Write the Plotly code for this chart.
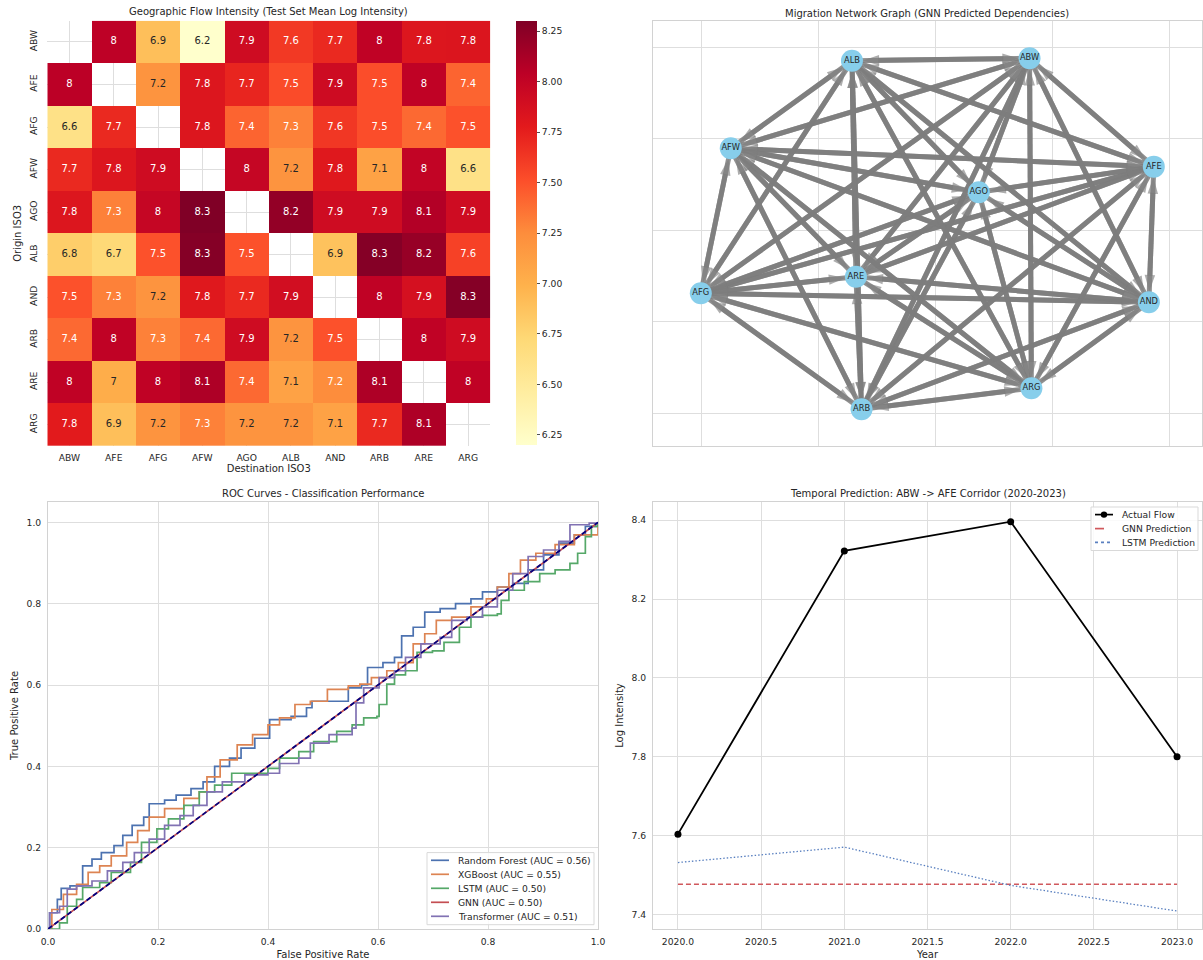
import plotly.graph_objects as go

# ---------------- data ----------------
codes = ["ABW", "AFE", "AFG", "AFW", "AGO", "ALB", "AND", "ARB", "ARE", "ARG"]
# rows = origin, columns = destination (mean log intensity, diagonal empty)
flow = [
    [None, 8.03, 6.90, 6.20, 7.92, 7.62, 7.70, 8.02, 7.82, 7.83],
    [8.04, None, 7.20, 7.82, 7.72, 7.53, 7.93, 7.52, 8.02, 7.42],
    [6.62, 7.70, None, 7.82, 7.42, 7.30, 7.63, 7.52, 7.40, 7.50],
    [7.70, 7.82, 7.92, None, 7.98, 7.20, 7.80, 7.10, 8.00, 6.62],
    [7.82, 7.30, 7.98, 8.30, None, 8.22, 7.92, 7.92, 8.08, 7.92],
    [6.80, 6.72, 7.50, 8.28, 7.50, None, 6.88, 8.28, 8.20, 7.58],
    [7.50, 7.30, 7.20, 7.80, 7.70, 7.90, None, 8.02, 7.88, 8.28],
    [7.40, 8.02, 7.30, 7.40, 7.92, 7.20, 7.50, None, 8.02, 7.92],
    [8.02, 7.02, 8.02, 8.10, 7.40, 7.10, 7.247, 8.10, None, 8.02],
    [7.78, 6.90, 7.20, 7.30, 7.20, 7.20, 7.10, 7.70, 8.10, None],
]
flow_min, flow_max = 6.20, 8.30

# network layout (node positions) and edges (GNN predicted dependencies)
node_x = [0.404, 0.935, -1.001, -0.873, 0.187, -0.355, 0.914, -0.314, -0.338, 0.412]
node_y = [0.940, 0.348, -0.344, 0.448, 0.208, 0.927, -0.393, -0.978, -0.254, -0.863]
edges = [(s, t) for s in codes for t in codes if s != t]

# ROC curves (fpr, tpr)
roc_models = ["Random Forest", "XGBoost", "LSTM", "GNN", "Transformer"]
roc_auc = [0.56, 0.55, 0.50, 0.50, 0.51]
roc_rf = [(0, 0), (0.003, 0.04), (0.017, 0.073), (0.024, 0.10), (0.04, 0.106), (0.063, 0.155),
          (0.08, 0.172), (0.097, 0.188), (0.12, 0.205), (0.136, 0.23), (0.153, 0.255), (0.174, 0.275),
          (0.184, 0.308), (0.212, 0.317), (0.233, 0.329), (0.26, 0.345), (0.282, 0.362), (0.303, 0.40),
          (0.33, 0.42), (0.351, 0.445), (0.376, 0.469), (0.403, 0.515), (0.442, 0.523), (0.47, 0.544),
          (0.48, 0.56), (0.525, 0.56), (0.546, 0.593), (0.57, 0.60), (0.581, 0.643), (0.609, 0.655),
          (0.63, 0.668), (0.643, 0.721), (0.664, 0.742), (0.685, 0.779), (0.713, 0.788), (0.741, 0.80),
          (0.769, 0.812), (0.79, 0.829), (0.817, 0.841), (0.845, 0.85), (0.873, 0.883), (0.901, 0.92),
          (0.929, 0.949), (0.957, 0.969), (0.977, 0.99), (1.0, 1.0)]
roc_xgb = [(0, 0), (0.007, 0.048), (0.028, 0.085), (0.052, 0.11), (0.073, 0.139), (0.094, 0.155),
           (0.115, 0.18), (0.143, 0.213), (0.163, 0.242), (0.184, 0.275), (0.212, 0.296), (0.247, 0.321),
           (0.275, 0.337), (0.289, 0.374), (0.313, 0.416), (0.344, 0.453), (0.372, 0.478), (0.40, 0.502),
           (0.421, 0.519), (0.449, 0.552), (0.477, 0.56), (0.508, 0.589), (0.546, 0.598), (0.567, 0.602),
           (0.588, 0.618), (0.616, 0.635), (0.637, 0.655), (0.664, 0.701), (0.685, 0.726), (0.706, 0.759),
           (0.734, 0.767), (0.769, 0.792), (0.797, 0.812), (0.817, 0.841), (0.838, 0.874), (0.859, 0.907),
           (0.887, 0.924), (0.922, 0.945), (0.957, 0.969), (1.0, 1.0)]
roc_lstm = [(0, 0), (0.021, 0.015), (0.035, 0.056), (0.052, 0.073), (0.063, 0.102), (0.094, 0.114),
            (0.115, 0.139), (0.15, 0.164), (0.17, 0.213), (0.198, 0.246), (0.219, 0.271), (0.247, 0.304),
            (0.275, 0.337), (0.303, 0.354), (0.334, 0.383), (0.40, 0.395), (0.421, 0.42), (0.456, 0.436),
            (0.483, 0.461), (0.525, 0.486), (0.553, 0.502), (0.574, 0.519), (0.598, 0.523), (0.602, 0.552),
            (0.616, 0.602), (0.63, 0.625), (0.65, 0.635), (0.671, 0.68), (0.699, 0.684), (0.72, 0.705),
            (0.748, 0.742), (0.769, 0.767), (0.79, 0.771), (0.817, 0.775), (0.824, 0.808), (0.838, 0.833),
            (0.866, 0.854), (0.894, 0.874), (0.922, 0.883), (0.949, 0.899), (0.963, 0.924), (0.977, 0.965),
            (0.988, 0.99), (1.0, 1.0)]
roc_gnn = [(0, 0), (1.0, 1.0)]
roc_trf = [(0, 0), (0.003, 0.04), (0.021, 0.056), (0.035, 0.098), (0.052, 0.106), (0.08, 0.118),
           (0.108, 0.143), (0.136, 0.164), (0.157, 0.188), (0.184, 0.221), (0.212, 0.255), (0.24, 0.279),
           (0.264, 0.304), (0.289, 0.337), (0.317, 0.362), (0.358, 0.379), (0.40, 0.383), (0.421, 0.407),
           (0.456, 0.42), (0.477, 0.457), (0.511, 0.478), (0.553, 0.494), (0.56, 0.556), (0.574, 0.593),
           (0.602, 0.618), (0.63, 0.635), (0.65, 0.668), (0.678, 0.701), (0.713, 0.717), (0.734, 0.759),
           (0.762, 0.767), (0.79, 0.792), (0.817, 0.833), (0.845, 0.874), (0.873, 0.916), (0.901, 0.932),
           (0.929, 0.953), (0.949, 0.994), (0.984, 0.998), (1.0, 1.0)]
chance = [(0, 0), (1, 1)]

# temporal prediction ABW -> AFE
years = [2020, 2021, 2022, 2023]
actual_flow = [7.604, 8.322, 8.396, 7.800]
gnn_pred = [7.477, 7.477, 7.477, 7.477]
lstm_pred = [7.532, 7.571, 7.474, 7.409]

# ---------------- style ----------------
W, H = 1203, 960
FONT = "DejaVu Sans"
INK = "#262626"
GRID = "#dedede"
SPINE = "#d2d2d2"
TICK = 9.2
LABEL = 10
YLORRD = ["#ffffcc", "#ffeda0", "#fed976", "#feb24c", "#fd8d3c",
          "#fc4e2a", "#e31a1c", "#bd0026", "#800026"]
PAL = ["#4C72B0", "#DD8452", "#55A868", "#C44E52", "#8172B3"]


def px(x):
    return x / W


def py(y):
    return 1 - y / H


def hex2rgb(h):
    return [int(h[i:i + 2], 16) for i in (1, 3, 5)]


def cmap(v):
    f = (v - flow_min) / (flow_max - flow_min)
    f = min(max(f, 0.0), 1.0) * (len(YLORRD) - 1)
    i = min(int(f), len(YLORRD) - 2)
    t = f - i
    a, b = hex2rgb(YLORRD[i]), hex2rgb(YLORRD[i + 1])
    return [a[k] + (b[k] - a[k]) * t for k in range(3)]


def luminance(rgb):
    out = []
    for c in rgb:
        c = c / 255.0
        out.append(c / 12.92 if c <= 0.03928 else ((c + 0.055) / 1.055) ** 2.4)
    return 0.2126 * out[0] + 0.7152 * out[1] + 0.0722 * out[2]


fig = go.Figure()

# ---------------- heatmap ----------------
fig.add_trace(go.Heatmap(
    z=flow, x=codes, y=codes, zmin=flow_min, zmax=flow_max,
    colorscale=[[i / (len(YLORRD) - 1), c] for i, c in enumerate(YLORRD)],
    xaxis="x", yaxis="y", hoverongaps=False, hoverinfo="skip",
    colorbar=dict(x=px(516), xanchor="left", xpad=0, y=py(233), yanchor="middle", ypad=0,
                  len=424 / H, lenmode="fraction", thickness=20.5, thicknessmode="pixels",
                  outlinewidth=0, ticks="outside", ticklen=3.5, tickwidth=0.8, tickcolor=INK,
                  tick0=6.25, dtick=0.25, tickformat=".2f",
                  tickfont=dict(size=TICK, color=INK, family=FONT)),
))
tx, ty, tt, tc = [], [], [], []
for r, row in enumerate(flow):
    for c, v in enumerate(row):
        if v is None:
            continue
        tx.append(codes[c])
        ty.append(codes[r])
        tt.append(f"{v:.2g}")
        tc.append(INK if luminance(cmap(v)) > 0.408 else "white")
fig.add_trace(go.Scatter(x=tx, y=ty, text=tt, mode="text", xaxis="x", yaxis="y",
                         textfont=dict(size=10, color=tc, family=FONT),
                         hoverinfo="skip", showlegend=False))

# ---------------- network ----------------
pos = {c: (node_x[i], node_y[i]) for i, c in enumerate(codes)}
ex, ey, esz = [], [], []
for s, t in edges:
    ex += [pos[s][0], pos[t][0], None]
    ey += [pos[s][1], pos[t][1], None]
    esz += [0, 17, 0]
fig.add_trace(go.Scatter(
    x=ex, y=ey, mode="lines+markers", xaxis="x2", yaxis="y2",
    line=dict(color="rgba(125,125,125,0.85)", width=5),
    marker=dict(symbol="arrow", size=esz, angleref="previous", standoff=11,
                color="rgba(125,125,125,0.9)", line=dict(width=0)),
    hoverinfo="skip", showlegend=False))
fig.add_trace(go.Scatter(
    x=node_x, y=node_y, text=codes, mode="markers+text", xaxis="x2", yaxis="y2",
    marker=dict(size=22, color="#87CEEB", line=dict(width=0)),
    textposition="middle center", textfont=dict(size=8.3, color=INK, family=FONT),
    hoverinfo="skip", showlegend=False))

# ---------------- ROC ----------------
roc_sets = [roc_rf, roc_xgb, roc_lstm, roc_gnn, roc_trf]
for name, auc, pts, col in zip(roc_models, roc_auc, roc_sets, PAL):
    fig.add_trace(go.Scatter(
        x=[p[0] for p in pts], y=[p[1] for p in pts], mode="lines",
        line_shape="hv" if len(pts) > 2 else "linear",
        line=dict(color=col, width=1.7), xaxis="x3", yaxis="y3", hoverinfo="skip",
        name=f"{name} (AUC = {auc:.2f})", showlegend=False))
fig.add_trace(go.Scatter(
    x=[p[0] for p in chance], y=[p[1] for p in chance], mode="lines",
    line=dict(color="navy", width=1.7, dash="5px,3px"), xaxis="x3", yaxis="y3",
    hoverinfo="skip", showlegend=False))

# ---------------- temporal ----------------
fig.add_trace(go.Scatter(x=years, y=actual_flow, mode="lines+markers", xaxis="x4", yaxis="y4",
                         line=dict(color="black", width=1.8), marker=dict(size=7, color="black"),
                         name="Actual Flow", showlegend=False, hoverinfo="skip"))
fig.add_trace(go.Scatter(x=years, y=gnn_pred, mode="lines", xaxis="x4", yaxis="y4",
                         line=dict(color="#d0585c", width=1.3, dash="5px,3px"),
                         name="GNN Prediction", showlegend=False, hoverinfo="skip"))
fig.add_trace(go.Scatter(x=years, y=lstm_pred, mode="lines", xaxis="x4", yaxis="y4",
                         line=dict(color="#5a80c0", width=1.3, dash="1.5px,2px"),
                         name="LSTM Prediction", showlegend=False, hoverinfo="skip"))


def axis(domain, anchor, **kw):
    d = dict(domain=domain, anchor=anchor, showgrid=True, gridcolor=GRID, gridwidth=1,
             zeroline=False, showline=True, linecolor=SPINE, linewidth=1, mirror=True,
             ticks="outside", ticklen=4, tickcolor="rgba(0,0,0,0)", automargin=False,
             tickfont=dict(size=TICK, color=INK, family=FONT),
             title_font=dict(size=LABEL, color=INK, family=FONT))
    d.update(kw)
    return d


hm_x = [px(47.3), px(490.3)]
hm_y = [py(446), py(20.7)]
nw_x = [px(652.6), px(1202)]
nw_y = [py(446), py(21)]
roc_x = [px(48), px(598)]
bot_y = [py(929), py(502)]
tp_x = [px(653), px(1202)]

annotations = []


def title(text, xc, yc):
    annotations.append(dict(text=text, x=px(xc), y=py(yc), xref="paper", yref="paper",
                            showarrow=False, xanchor="center", yanchor="middle",
                            font=dict(size=LABEL, color=INK, family=FONT)))


title("Geographic Flow Intensity (Test Set Mean Log Intensity)", 268.8, 12)
title("Migration Network Graph (GNN Predicted Dependencies)", 927, 13)
title("ROC Curves - Classification Performance", 323, 493.5)
title("Temporal Prediction: ABW -> AFE Corridor (2020-2023)", 927.5, 493.5)

shapes = []


def legend(box, rows, x_line, x_text):
    x0, y0, x1, y1 = box
    shapes.append(dict(type="rect", xref="paper", yref="paper", x0=px(x0), x1=px(x1),
                       y0=py(y1), y1=py(y0), line=dict(color="#d9d9d9", width=1),
                       fillcolor="rgba(255,255,255,0.85)", layer="above"))
    for yy, label, col, dash, marker in rows:
        shapes.append(dict(type="line", xref="paper", yref="paper", x0=px(x_line[0]),
                           x1=px(x_line[1]), y0=py(yy), y1=py(yy),
                           line=dict(color=col, width=1.7, dash=dash), layer="above"))
        if marker:
            xm = (x_line[0] + x_line[1]) / 2
            shapes.append(dict(type="circle", xref="paper", yref="paper", x0=px(xm - 3.2),
                               x1=px(xm + 3.2), y0=py(yy + 3.2), y1=py(yy - 3.2),
                               fillcolor=col, line=dict(width=0), layer="above"))
        annotations.append(dict(text=label, x=px(x_text), y=py(yy), xref="paper", yref="paper",
                                showarrow=False, xanchor="left", yanchor="middle",
                                font=dict(size=TICK, color=INK, family=FONT)))


legend((427, 852.6, 594, 924.7),
       [(860.3 + 14 * i, f"{m} (AUC = {a:.2f})", c, "solid", False)
        for i, (m, a, c) in enumerate(zip(roc_models, roc_auc, PAL))],
       (431, 449), 456)
legend((1091, 507, 1198, 550.5),
       [(514.6, "Actual Flow", "black", "solid", True),
        (528.6, "GNN Prediction", "#d0585c", "dash", False),
        (542.4, "LSTM Prediction", "#5a80c0", "dot", False)],
       (1095, 1113), 1120)

fig.update_layout(
    width=W, height=H, margin=dict(l=0, r=0, t=0, b=0, autoexpand=False),
    paper_bgcolor="white", plot_bgcolor="white", hovermode=False,
    font=dict(family=FONT, color=INK, size=TICK), showlegend=False,
    xaxis=axis(hm_x, "y", showline=False, ticklen=3, type="category",
               title=dict(text="Destination ISO3", standoff=2)),
    yaxis=axis(hm_y, "x", showline=False, ticklen=6, type="category", autorange="reversed",
               tickangle=-90, title=dict(text="Origin ISO3", standoff=4)),
    xaxis2=axis(nw_x, "y2", range=[-1.207, 1.141], tick0=0, dtick=0.5, showticklabels=False,
                ticks=""),
    yaxis2=axis(nw_y, "x2", range=[-1.179, 1.144], tick0=0, dtick=0.5, showticklabels=False,
                ticks=""),
    xaxis3=axis(roc_x, "y3", range=[0, 1], tick0=0, dtick=0.2, tickformat=".1f",
                title=dict(text="False Positive Rate", standoff=4)),
    yaxis3=axis(bot_y, "x3", range=[0, 1.05], tick0=0, dtick=0.2, tickformat=".1f",
                title=dict(text="True Positive Rate", standoff=6)),
    xaxis4=axis(tp_x, "y4", range=[2019.85, 2023.15], tick0=2020, dtick=0.5, tickformat=".1f",
                title=dict(text="Year", standoff=4)),
    yaxis4=axis(bot_y, "x4", range=[7.3635, 8.446], tick0=7.4, dtick=0.2, tickformat=".1f",
                title=dict(text="Log Intensity", standoff=6)),
    annotations=annotations, shapes=shapes,
)

fig.write_html("out.html", config={"displayModeBar": False, "staticPlot": True},
               post_script="document.body.style.margin='0px';"
               "document.body.style.overflow='hidden';")
